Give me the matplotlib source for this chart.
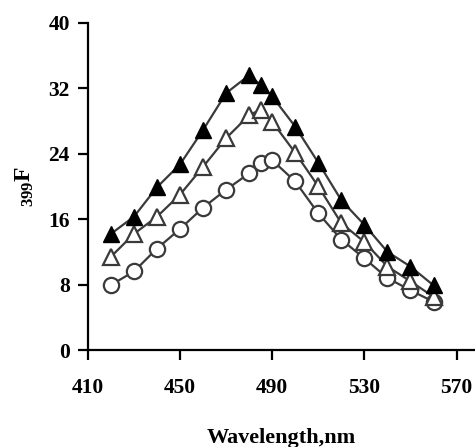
import numpy as np
import matplotlib
matplotlib.use("Agg")
import matplotlib.pyplot as plt

plt.rcParams['font.family'] = 'Liberation Serif'
plt.rcParams['font.weight'] = 'bold'
plt.rcParams['mathtext.fontset'] = 'custom'
plt.rcParams['mathtext.rm'] = 'Liberation Serif:bold'
plt.rcParams['mathtext.it'] = 'Liberation Serif:bold'
plt.rcParams['mathtext.bf'] = 'Liberation Serif:bold'

# wavelength (nm)
wavelength = [420, 430, 440, 450, 460, 470, 480, 485, 490, 500, 510, 520, 530, 540, 550, 560]
# fluorescence, three series
filled_tri = [14.2, 16.3, 19.9, 22.7, 26.9, 31.4, 33.6, 32.4, 31.0, 27.3, 22.9, 18.3, 15.3, 12.0, 10.2, 7.9]
open_tri = [11.4, 14.2, 16.3, 19.0, 22.4, 25.9, 28.7, 29.4, 27.9, 24.1, 20.0, 15.5, 13.2, 10.2, 8.4, 6.5]
circles = [7.95, 9.6, 12.4, 14.8, 17.4, 19.6, 21.6, 22.9, 23.2, 20.6, 16.7, 13.5, 11.2, 8.8, 7.3, 5.9]

xticks = [410, 450, 490, 530, 570]
yticks = [0, 8, 16, 24, 32, 40]

fig = plt.figure(figsize=(4.75, 4.47), dpi=100)
ax = fig.add_axes([0.185, 0.217, 0.815, 0.732])

line_c = '#3a3a3a'
ax.plot(wavelength, circles, '-o', color=line_c, lw=1.6, ms=11,
        mfc='white', mec=line_c, mew=1.6)
ax.plot(wavelength, open_tri, '-^', color=line_c, lw=1.6, ms=12,
        mfc='white', mec=line_c, mew=1.6)
ax.plot(wavelength, filled_tri, '-^', color=line_c, lw=1.6, ms=12,
        mfc='black', mec='black', mew=1.0)

ax.set_xlim(410, 578)
ax.set_ylim(0, 40)
ax.set_xticks(xticks)
ax.set_yticks(yticks)
ax.spines['top'].set_visible(False)
ax.spines['right'].set_visible(False)
ax.spines['left'].set_linewidth(1.6)
ax.spines['bottom'].set_linewidth(1.6)
ax.tick_params(direction='out', length=7, width=1.6, labelsize=15.5)
ax.tick_params(axis='x', pad=13)
ax.tick_params(axis='y', pad=6)

ax.set_xlabel('Wavelength,nm', fontsize=16, fontweight='bold', labelpad=22)
ax.set_ylabel(r'$_{399}$F', fontsize=17, fontweight='bold', labelpad=9)

fig.savefig('out.png', dpi=100)
